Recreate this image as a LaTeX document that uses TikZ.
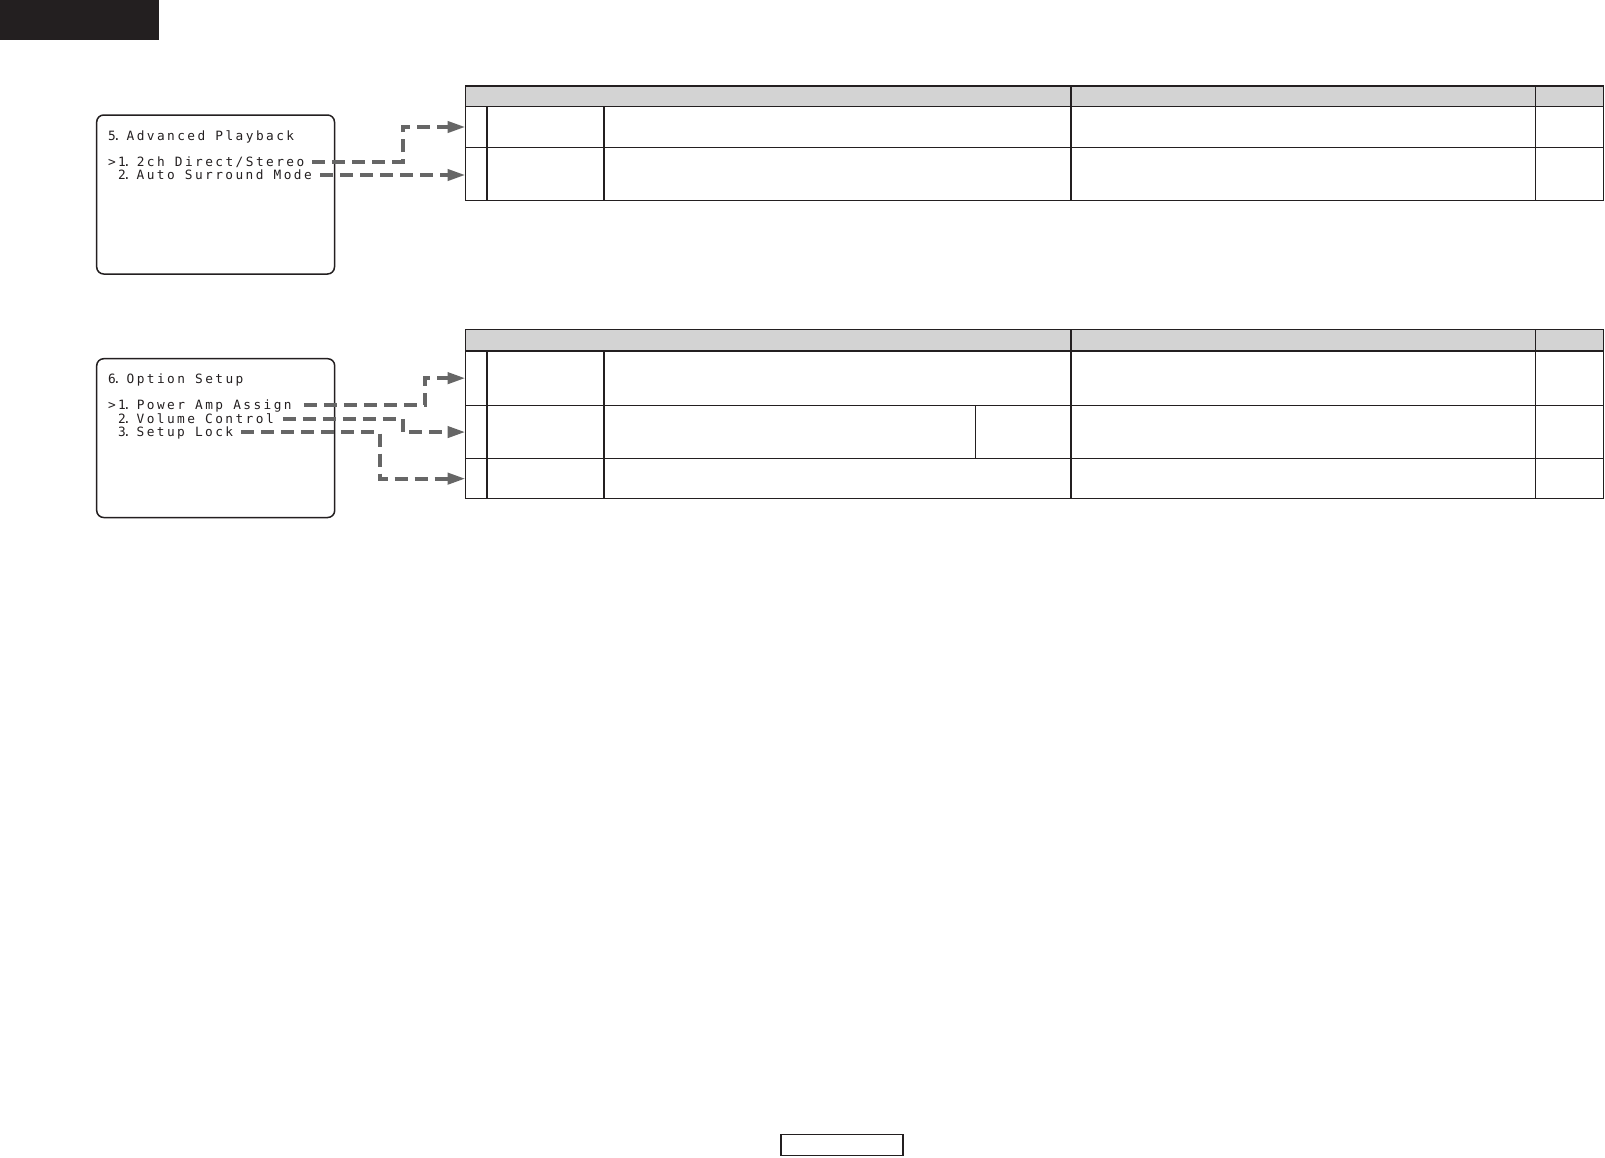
\documentclass[tikz,border=0pt]{standalone}
\usepackage{fontspec}
\usetikzlibrary{arrows.meta}
\newfontfamily\lcdfont[LetterSpace=19]{DejaVu Sans Mono}
\definecolor{ink}{HTML}{231F20}
\definecolor{hdr}{HTML}{D3D3D3}
\definecolor{arr}{HTML}{666666}
\newcommand\nsp{\kern-2.6pt.\kern-4.3pt\ }
\tikzset{
  tcell/.style={draw=ink, line width=1.3pt, inner sep=0pt, outer sep=0pt, anchor=north west},
  hcell/.style={tcell, fill=hdr},
  menubox/.style={draw=ink, line width=1.5pt, rounded corners=7pt, inner sep=0pt, outer sep=0pt, anchor=north west},
  mtext/.style={font=\lcdfont\fontsize{12.8}{14}\selectfont, inner sep=0pt, anchor=base west, text=ink},
  conn/.style={draw=arr, line width=4pt, dash pattern=on 13pt off 7pt, -{Triangle[length=18pt,width=11pt]}},
}
\begin{document}
\begin{tikzpicture}[x=1pt,y=-1pt]
\useasboundingbox (0,0) rectangle (1605,1157);
\fill[white] (0,0) rectangle (1605,1157);
% top-left tab
\fill[ink] (0,0) rectangle (159,40);
% page number box
\node[tcell, minimum width=122pt, minimum height=21.5pt] (pagebox) at (781,1134.3) {};

% ---------- Menu 5 ----------
\node[menubox, minimum width=237.8pt, minimum height=159pt] (menuA) at (96.7,115) {};
\node[mtext] (a0) at (107.8,140) {5\nsp Advanced Playback};
\node[mtext] (a1) at (107.8,166.5) {>1\nsp 2ch Direct/Stereo};
\node[mtext] (a2) at (117.8,179.5) {2\nsp Auto Surround Mode};

% ---------- Table 1 ----------
\node[hcell, minimum width=605.5pt, minimum height=20.5pt] (t1h1) at (465.5,86) {};
\node[hcell, minimum width=464.5pt, minimum height=20.5pt] (t1h2) at (1071,86) {};
\node[hcell, minimum width=68pt, minimum height=20.5pt] (t1h3) at (1535.5,86) {};
% row 1
\node[tcell, minimum width=21.5pt, minimum height=41pt] (r1) at (465.5,106.5) {};
\node[tcell, minimum width=117pt, minimum height=41pt] (r1b) at (487,106.5) {};
\node[tcell, minimum width=467pt, minimum height=41pt] (r1c) at (604,106.5) {};
\node[tcell, minimum width=464.5pt, minimum height=41pt] (r1d) at (1071,106.5) {};
\node[tcell, minimum width=68pt, minimum height=41pt] (r1e) at (1535.5,106.5) {};
% row 2
\node[tcell, minimum width=21.5pt, minimum height=53pt] (r2) at (465.5,147.5) {};
\node[tcell, minimum width=117pt, minimum height=53pt] (r2b) at (487,147.5) {};
\node[tcell, minimum width=467pt, minimum height=53pt] (r2c) at (604,147.5) {};
\node[tcell, minimum width=464.5pt, minimum height=53pt] (r2d) at (1071,147.5) {};
\node[tcell, minimum width=68pt, minimum height=53pt] (r2e) at (1535.5,147.5) {};

% ---------- Menu 6 ----------
\node[menubox, minimum width=238pt, minimum height=158.8pt] (menuB) at (96.7,358.7) {};
\node[mtext] (b0) at (107.8,383.5) {6\nsp Option Setup};
\node[mtext] (b1) at (107.8,409.5) {>1\nsp Power Amp Assign};
\node[mtext] (b2) at (117.8,423) {2\nsp Volume Control};
\node[mtext] (b3) at (117.8,436.5) {3\nsp Setup Lock};

% ---------- Table 2 ----------
\node[hcell, minimum width=605.5pt, minimum height=21.5pt] (t2h1) at (465.5,329.5) {};
\node[hcell, minimum width=464.5pt, minimum height=21.5pt] (t2h2) at (1071,329.5) {};
\node[hcell, minimum width=68pt, minimum height=21.5pt] (t2h3) at (1535.5,329.5) {};
% row 1
\node[tcell, minimum width=21.5pt, minimum height=54.3pt] (u1) at (465.5,351) {};
\node[tcell, minimum width=117pt, minimum height=54.3pt] (u1b) at (487,351) {};
\node[tcell, minimum width=467pt, minimum height=54.3pt] (u1c) at (604,351) {};
\node[tcell, minimum width=464.5pt, minimum height=54.3pt] (u1d) at (1071,351) {};
\node[tcell, minimum width=68pt, minimum height=54.3pt] (u1e) at (1535.5,351) {};
% row 2
\node[tcell, minimum width=21.5pt, minimum height=53.5pt] (u2) at (465.5,405.3) {};
\node[tcell, minimum width=117pt, minimum height=53.5pt] (u2b) at (487,405.3) {};
\node[tcell, minimum width=371.5pt, minimum height=53.5pt] (u2c) at (604,405.3) {};
\node[tcell, minimum width=95.5pt, minimum height=53.5pt] (u2x) at (975.5,405.3) {};
\node[tcell, minimum width=464.5pt, minimum height=53.5pt] (u2d) at (1071,405.3) {};
\node[tcell, minimum width=68pt, minimum height=53.5pt] (u2e) at (1535.5,405.3) {};
% row 3
\node[tcell, minimum width=21.5pt, minimum height=39.7pt] (u3) at (465.5,458.8) {};
\node[tcell, minimum width=117pt, minimum height=39.7pt] (u3b) at (487,458.8) {};
\node[tcell, minimum width=467pt, minimum height=39.7pt] (u3c) at (604,458.8) {};
\node[tcell, minimum width=464.5pt, minimum height=39.7pt] (u3d) at (1071,458.8) {};
\node[tcell, minimum width=68pt, minimum height=39.7pt] (u3e) at (1535.5,458.8) {};

% ---------- connectors ----------
\coordinate (a1s) at ([xshift=8pt,yshift=4.5pt]a1.base east);
\coordinate (a2s) at ([xshift=8pt,yshift=4.5pt]a2.base east);
\coordinate (b1s) at ([xshift=12pt,yshift=4.5pt]b1.base east);
\coordinate (b2s) at ([xshift=9pt,yshift=4.5pt]b2.base east);
\coordinate (b3s) at ([xshift=8pt,yshift=4.5pt]b3.base east);

\draw[conn] (a1s) -| ([xshift=-63pt]r1.west) -- (r1.west);
\draw[conn] (a2s) -- (a2s -| r2.west);
\draw[conn] (b1s) -| ([xshift=-40.7pt]u1.west) -- (u1.west);
\draw[conn] (b2s) -| ([xshift=-63pt]u2.west) -- (u2.west);
\draw[conn] (b3s) -| ([xshift=-85.7pt]u3.west) -- (u3.west);
\end{tikzpicture}
\end{document}
